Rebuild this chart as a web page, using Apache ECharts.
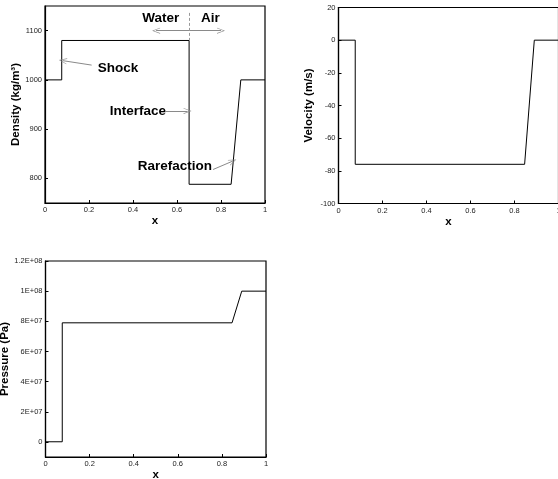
<!DOCTYPE html>
<html>
<head>
<meta charset="utf-8">
<script src="https://cdn.jsdelivr.net/npm/echarts@6/dist/echarts.min.js"></script>
<style>
html,body{margin:0;padding:0;background:#fff;}
#c{width:558px;height:479px;}
</style>
</head>
<body>
<div id="c"></div>
<script>
// ---- data ----
var xPos = [0, 0.076, 0.076, 0.655, 0.655, 0.846, 0.89, 1];
var density = [1000, 1000, 1080, 1080, 788, 788, 1000, 1000];
var xPos2 = [0, 0.076, 0.076, 0.846, 0.89, 1];
var velocity = [0, 0, -76, -76, 0, 0];
var pressure = [1e5, 1e5, 7.9e7, 7.9e7, 1e8, 1e8];

var xTicks = [0, 0.2, 0.4, 0.6, 0.8, 1];
var xTickLabels = ['0', '0.2', '0.4', '0.6', '0.8', '1'];
var densTicks = [800, 900, 1000, 1100];
var velTicks = [-100, -80, -60, -40, -20, 0, 20];
var presTicks = [0, 2e7, 4e7, 6e7, 8e7, 1e8, 1.2e8];
var presTickLabels = ['0', '2E+07', '4E+07', '6E+07', '8E+07', '1E+08', '1.2E+08'];

// annotation texts (data coords of density panel)
var annTexts = [
  {text: 'Water', x: 0.526, y: 1126, align: 'center'},
  {text: 'Air', x: 0.752, y: 1126, align: 'center'},
  {text: 'Shock', x: 0.24, y: 1024, align: 'left'},
  {text: 'Interface', x: 0.55, y: 936, align: 'right'},
  {text: 'Rarefaction', x: 0.759, y: 824, align: 'right'}
];
// arrows: [x1,y1,x2,y2] tail -> tip
var annArrows = [
  [0.212, 1030, 0.081, 1039],
  [0.55, 937, 0.648, 937],
  [0.764, 818, 0.853, 835],
  [0.655, 1100, 0.505, 1100],
  [0.655, 1100, 0.80, 1100]
];
var dashedSep = [0.655, 1136, 0.655, 1080];

function pairs(xs, ys) { return xs.map(function (x, i) { return [x, ys[i]]; }); }

var FONT = 'Liberation Sans, Arial, Helvetica, sans-serif';
var arrowPath = 'path://M0,10 L5,0 L10,10 L9,10 L5,2 L1,10 Z';

function xAxisCfg(gi) {
  return {
    type: 'value', gridIndex: gi, min: 0, max: 1,
    name: 'x', nameLocation: 'middle', nameGap: 8,
    nameTextStyle: {fontFamily: FONT, fontWeight: 'bold', fontSize: 11.5, color: '#000'},
    axisLine: {show: true, onZero: false, lineStyle: {color: '#000', width: 1.2}},
    axisTick: {show: true, inside: true, length: 3, customValues: xTicks, lineStyle: {color: '#000'}},
    axisLabel: {customValues: xTicks, margin: 3, fontFamily: FONT, fontSize: 7.5, color: '#222',
      formatter: function (v) { var i = xTicks.indexOf(v); return i >= 0 ? xTickLabels[i] : ''; }},
    splitLine: {show: false}
  };
}
function yAxisCfg(gi, min, max, ticks, name, gap, fmt) {
  return {
    type: 'value', gridIndex: gi, min: min, max: max,
    name: name, nameLocation: 'middle', nameGap: gap, nameRotate: 90,
    nameTextStyle: {fontFamily: FONT, fontWeight: 'bold', fontSize: 11.5, color: '#000'},
    axisLine: {show: true, onZero: false, lineStyle: {color: '#000', width: 1.2}},
    axisTick: {show: true, inside: true, length: 3, customValues: ticks, lineStyle: {color: '#000'}},
    axisLabel: {customValues: ticks, margin: 3, fontFamily: FONT, fontSize: 7.5, color: '#222', formatter: fmt},
    splitLine: {show: false}
  };
}

var markData = annArrows.map(function (a) {
  return [{coord: [a[0], a[1]], symbol: 'none'}, {coord: [a[2], a[3]], symbol: arrowPath, symbolSize: [6, 8]}];
});
markData.push([
  {coord: [dashedSep[0], dashedSep[1]], symbol: 'none', lineStyle: {type: [3, 2], color: '#999', width: 1}},
  {coord: [dashedSep[2], dashedSep[3]], symbol: 'none'}
]);

var gridBase = {show: true, borderColor: '#000', borderWidth: 1.2, outerBoundsMode: 'none', containLabel: false};
var chart = echarts.init(document.getElementById('c'), null, {renderer: 'canvas'});
chart.setOption({
  animation: false,
  backgroundColor: '#fff',
  grid: [
    Object.assign({left: 45, top: 6, width: 220, height: 197}, gridBase),
    Object.assign({left: 338.5, top: 7.5, width: 220, height: 196}, gridBase),
    Object.assign({left: 45.5, top: 261, width: 220.5, height: 196}, gridBase)
  ],
  xAxis: [xAxisCfg(0), xAxisCfg(1), xAxisCfg(2)],
  yAxis: [
    yAxisCfg(0, 750, 1150, densTicks, 'Density (kg/m³)', 23, function (v) { return String(v); }),
    yAxisCfg(1, -100, 20, velTicks, 'Velocity (m/s)', 24, function (v) { return String(v); }),
    yAxisCfg(2, -1e7, 1.2e8, presTicks, 'Pressure (Pa)', 31, function (v) {
      var i = presTicks.indexOf(v); return i >= 0 ? presTickLabels[i] : ''; })
  ],
  series: [
    {type: 'line', xAxisIndex: 0, yAxisIndex: 0, data: pairs(xPos, density), showSymbol: false, silent: true,
      lineStyle: {color: '#000', width: 1},
      markLine: {silent: true, animation: false, label: {show: false},
        lineStyle: {color: '#8a8a8a', width: 1, type: 'solid'},
        emphasis: {disabled: true},
        data: markData}},
    {type: 'line', xAxisIndex: 1, yAxisIndex: 1, data: pairs(xPos2, velocity), showSymbol: false, silent: true,
      lineStyle: {color: '#000', width: 1}},
    {type: 'line', xAxisIndex: 2, yAxisIndex: 2, data: pairs(xPos2, pressure), showSymbol: false, silent: true,
      lineStyle: {color: '#000', width: 1}}
  ]
});

var graphics = annTexts.map(function (t) {
  var p = chart.convertToPixel({gridIndex: 0}, [t.x, t.y]);
  return {type: 'text', x: p[0], y: p[1], silent: true,
    style: {text: t.text, fill: '#000', font: 'bold 13.5px ' + FONT, align: t.align, verticalAlign: 'middle'}};
});
chart.setOption({graphic: graphics});
</script>
</body>
</html>
